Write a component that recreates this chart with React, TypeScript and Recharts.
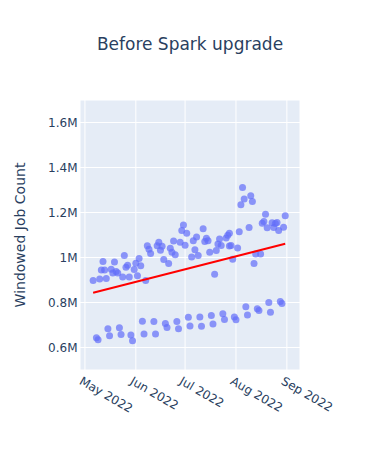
import { ScatterChart, Scatter, XAxis, YAxis, CartesianGrid } from 'recharts';

// weekday runs (upper band)
const weekdayDates = [
  '2022-05-06', '2022-05-10', '2022-05-11', '2022-05-12', '2022-05-13', '2022-05-14',
  '2022-05-17', '2022-05-18', '2022-05-19', '2022-05-20', '2022-05-21',
  '2022-05-24', '2022-05-25', '2022-05-26', '2022-05-27', '2022-05-28',
  '2022-05-31', '2022-06-01', '2022-06-02', '2022-06-03', '2022-06-04',
  '2022-06-07', '2022-06-08', '2022-06-09', '2022-06-10',
  '2022-06-14', '2022-06-15', '2022-06-16', '2022-06-17', '2022-06-18',
  '2022-06-21', '2022-06-22', '2022-06-23', '2022-06-24', '2022-06-25',
  '2022-06-28', '2022-06-29', '2022-06-30', '2022-07-01', '2022-07-02',
  '2022-07-05', '2022-07-06', '2022-07-07', '2022-07-08', '2022-07-09',
  '2022-07-12', '2022-07-13', '2022-07-14', '2022-07-15', '2022-07-16',
  '2022-07-19', '2022-07-20', '2022-07-21', '2022-07-22', '2022-07-23',
  '2022-07-26', '2022-07-27', '2022-07-28', '2022-07-28', '2022-07-29', '2022-07-30',
  '2022-08-02', '2022-08-03', '2022-08-04', '2022-08-05', '2022-08-06',
  '2022-08-09', '2022-08-10', '2022-08-11', '2022-08-12', '2022-08-13',
  '2022-08-16', '2022-08-17', '2022-08-18', '2022-08-19', '2022-08-20',
  '2022-08-23', '2022-08-24', '2022-08-25', '2022-08-26', '2022-08-27',
  '2022-08-30', '2022-08-31',
];
const weekdayCounts = [
  898000, 905000, 945000, 982000, 945000, 907000,
  948000, 931000, 980000, 938000, 931000,
  913000, 1009000, 957000, 966000, 913000,
  947000, 975000, 919000, 996000, 963000,
  898000, 1052000, 1037000, 1018000,
  1052000, 1068000, 1032000, 1050000, 991000,
  973000, 1041000, 1023000, 1073000, 1012000,
  1068000, 1120000, 1144000, 1055000, 1108000,
  1002000, 1075000, 1035000, 1091000, 1009000,
  1128000, 1071000, 1086000, 1075000, 1023000,
  926000, 1031000, 1060000, 1082000, 1053000,
  1087000, 1099000, 1108000, 1051000, 1053000, 992000,
  1042000, 1115000, 1234000, 1311000, 1260000,
  1133000, 1275000, 1249000, 973000, 1016000,
  1016000, 1152000, 1160000, 1192000, 1132000,
  1154000, 1133000, 1151000, 1156000, 1120000,
  1135000, 1186000,
];

// weekend runs (lower band)
const weekendDates = [
  '2022-05-08', '2022-05-09', '2022-05-15', '2022-05-16', '2022-05-22', '2022-05-23',
  '2022-05-29', '2022-05-30', '2022-06-05', '2022-06-06', '2022-06-12', '2022-06-13',
  '2022-06-19', '2022-06-20', '2022-06-26', '2022-06-27', '2022-07-03', '2022-07-04',
  '2022-07-10', '2022-07-11', '2022-07-17', '2022-07-18', '2022-07-24', '2022-07-25',
  '2022-07-31', '2022-08-01', '2022-08-07', '2022-08-08', '2022-08-14', '2022-08-15',
  '2022-08-21', '2022-08-22', '2022-08-28', '2022-08-29',
];
const weekendCounts = [
  643000, 634000, 683000, 652000, 688000, 658000,
  656000, 630000, 717000, 660000, 716000, 660000,
  707000, 689000, 716000, 683000, 735000, 696000,
  736000, 695000, 742000, 705000, 750000, 724000,
  736000, 723000, 781000, 744000, 772000, 764000,
  800000, 757000, 804000, 796000,
];

const trendDates = ['2022-05-06', '2022-08-31'];
const trendCounts = [843000, 1061000];

const xTickDates = ['2022-05-01', '2022-06-01', '2022-07-01', '2022-08-01', '2022-09-01'];
const xTickLabels = ['May 2022', 'Jun 2022', 'Jul 2022', 'Aug 2022', 'Sep 2022'];
const yTicks = [600000, 800000, 1000000, 1200000, 1400000, 1600000];

const toPoints = (dates: string[], counts: number[]) =>
  dates.map((d, i) => ({ t: Date.parse(d), count: counts[i] }));

const xTicks = xTickDates.map((d) => Date.parse(d));
const textColor = '#2a3f5f';
const font = '"DejaVu Sans", Verdana, sans-serif';

const Dot = (props: any) => (
  <circle cx={props.cx} cy={props.cy} r={3.5} fill="#636efa" fillOpacity={0.7} />
);

const XTick = ({ x, y, payload }: any) => {
  const label = xTickLabels[xTicks.indexOf(payload.value)];
  const tx = x - 6.5;
  const ty = y + 13.5;
  return (
    <text
      x={tx}
      y={ty}
      transform={`rotate(30, ${tx}, ${ty})`}
      textAnchor="start"
      fill={textColor}
      fontSize={12}
      fontFamily={font}
    >
      {label}
    </text>
  );
};

export default function App() {
  return (
    <div style={{ position: 'absolute', left: 0, top: 0, width: 380, height: 450, background: '#fff' }}>
      <ScatterChart width={380} height={450} margin={{ top: 100, right: 80, left: 0, bottom: 0 }}>
        <CartesianGrid fill="#E5ECF6" stroke="#fff" strokeWidth={1} />
        <XAxis
          type="number"
          dataKey="t"
          scale="time"
          domain={[Date.parse('2022-04-28'), Date.parse('2022-09-09')]}
          ticks={xTicks}
          interval={0}
          height={80}
          axisLine={false}
          tickLine={false}
          tickSize={0}
          tickMargin={0}
          tick={<XTick />}
          allowDataOverflow
        />
        <YAxis
          type="number"
          dataKey="count"
          domain={[500000, 1700000]}
          ticks={yTicks}
          interval={0}
          width={80}
          axisLine={false}
          tickLine={false}
          tickSize={0}
          tickMargin={2.5}
          tickFormatter={(v: number) => `${v / 1e6}M`}
          tick={{ fill: textColor, fontSize: 12, fontFamily: font }}
          allowDataOverflow
        />
        <Scatter data={toPoints(weekdayDates, weekdayCounts)} shape={<Dot />} isAnimationActive={false} />
        <Scatter data={toPoints(weekendDates, weekendCounts)} shape={<Dot />} isAnimationActive={false} />
        <Scatter
          data={toPoints(trendDates, trendCounts)}
          line={{ stroke: 'red', strokeWidth: 2 }}
          lineType="joint"
          shape={() => <g />}
          isAnimationActive={false}
        />
      </ScatterChart>
      <div
        style={{
          position: 'absolute', left: 0, top: 34, width: 380, textAlign: 'center',
          fontSize: 17, lineHeight: '20px', color: textColor, fontFamily: font,
        }}
      >
        Before Spark upgrade
      </div>
      <div
        style={{
          position: 'absolute', left: 19.5 - 135, top: 235 - 10, width: 270, height: 20,
          lineHeight: '20px', textAlign: 'center', fontSize: 14, color: textColor,
          fontFamily: font, transform: 'rotate(-90deg)',
        }}
      >
        Windowed Job Count
      </div>
    </div>
  );
}
